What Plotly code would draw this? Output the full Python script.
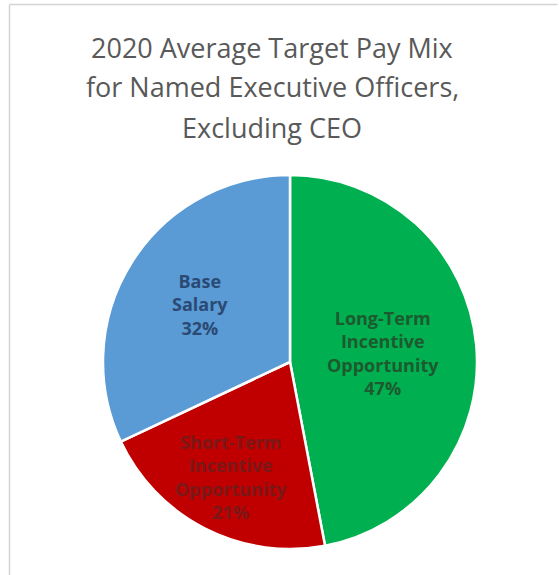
import math
import plotly.graph_objects as go

# Pay mix components, clockwise from 12 o'clock
components = ["Long-Term<br>Incentive<br>Opportunity", "Short-Term<br>Incentive<br>Opportunity", "Base<br>Salary"]
shares = [47, 21, 32]
slice_colors = ["#00B050", "#C00000", "#5B9BD5"]
label_colors = ["#1D5A2F", "#7A1818", "#2A4A74"]
label_radius = [0.50, 0.69, 0.57]  # label distance from centre, as a fraction of the radius
title_lines = ["2020 Average Target Pay Mix", "for Named Executive Officers,", "Excluding CEO"]

W, H = 559, 575
cx, cy, r = 290, 362, 187

fig = go.Figure(
    go.Pie(
        labels=components,
        values=shares,
        sort=False,
        direction="clockwise",
        rotation=0,
        marker=dict(colors=slice_colors, line=dict(color="white", width=2.5)),
        textinfo="none",
        hoverinfo="label+percent",
        showlegend=False,
        domain=dict(x=[(cx - r) / W, (cx + r) / W], y=[(H - cy - r) / H, (H - cy + r) / H]),
    )
)

annotations = []
for i, line in enumerate(title_lines):
    annotations.append(
        dict(
            text=line,
            x=272 / W,
            y=1 - (47 + 40 * i) / H,
            xref="paper",
            yref="paper",
            xanchor="center",
            yanchor="middle",
            showarrow=False,
            font=dict(family="Open Sans", size=27, color="#595959"),
        )
    )

# slice labels placed along each slice's mid-angle
total = sum(shares)
cum = 0
for name, v, col, rf in zip(components, shares, label_colors, label_radius):
    mid = (cum + v / 2) / total * 2 * math.pi
    cum += v
    px = cx + rf * r * math.sin(mid)
    py = cy - rf * r * math.cos(mid)
    annotations.append(
        dict(
            text=f"{name}<br>{round(100 * v / total)}%",
            x=px / W,
            y=1 - py / H,
            xref="paper",
            yref="paper",
            xanchor="center",
            yanchor="middle",
            showarrow=False,
            align="center",
            font=dict(family="Open Sans", size=18, color=col, weight="bold"),
        )
    )

# light frame around the chart area
frame = dict(color="#D4D4D4", width=1.5)
shapes = [
    dict(type="line", xref="paper", yref="paper", x0=9.5 / W, x1=9.5 / W, y0=0, y1=1 - 4.5 / H, line=frame),
    dict(type="line", xref="paper", yref="paper", x0=9.5 / W, x1=557.5 / W, y0=1 - 4.5 / H, y1=1 - 4.5 / H, line=frame),
]

fig.update_layout(
    width=W,
    height=H,
    margin=dict(l=0, r=0, t=0, b=0),
    paper_bgcolor="white",
    plot_bgcolor="white",
    annotations=annotations,
    shapes=shapes,
)

fig.write_html("out.html")
